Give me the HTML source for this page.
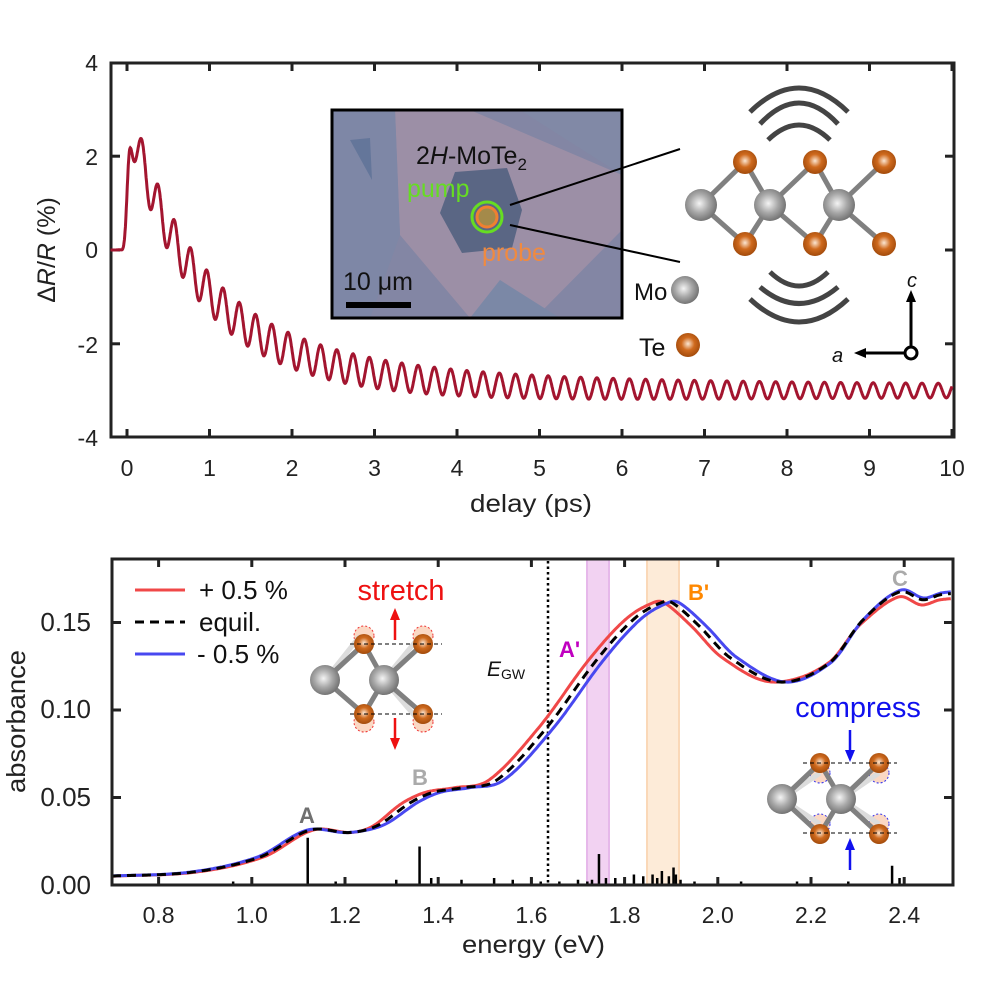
<!DOCTYPE html>
<html><head><meta charset="utf-8">
<style>
html,body{margin:0;padding:0;background:#fff;}
svg{display:block;font-family:"Liberation Sans",Arial,sans-serif;}
</style></head>
<body>
<svg id="s" width="987" height="983" viewBox="0 0 987 983" xmlns="http://www.w3.org/2000/svg">
<defs>
<radialGradient id="gMo" cx="0.45" cy="0.45" r="0.6"><stop offset="0" stop-color="#f4f4f4"/><stop offset="0.5" stop-color="#a8a8a8"/><stop offset="1" stop-color="#6a6a6a"/></radialGradient>
<radialGradient id="gTe" cx="0.5" cy="0.45" r="0.6"><stop offset="0" stop-color="#fbe6d2"/><stop offset="0.45" stop-color="#cf6a1e"/><stop offset="1" stop-color="#9a4508"/></radialGradient>
</defs>

<!-- ============ TOP PANEL ============ -->
<rect x="111" y="63" width="843" height="374" fill="none" stroke="#222" stroke-width="3"/>
<g id="topTicks" stroke="#222" stroke-width="3"></g>
<g font-size="23" fill="#222" text-anchor="end">
<text x="98" y="71">4</text><text x="98" y="165">2</text><text x="98" y="258">0</text><text x="98" y="353">-2</text><text x="98" y="446">-4</text>
</g>
<g id="topXl" font-size="23" fill="#222" text-anchor="middle"></g>
<text x="470" y="512" font-size="25" fill="#222" textLength="122" lengthAdjust="spacingAndGlyphs">delay (ps)</text>
<text transform="translate(55,250) rotate(-90)" font-size="25" fill="#222" text-anchor="middle">Δ<tspan font-style="italic">R</tspan>/<tspan font-style="italic">R</tspan> (%)</text>
<path id="trace" fill="none" stroke="#a3152f" stroke-width="3"/>

<!-- micrograph -->
<g>
<rect x="332" y="110" width="290" height="208" fill="#8386a4"/>
<polygon points="395,110 470,110 622,175 622,230 535,318 470,318 400,235" fill="#9c8fa6"/>
<polygon points="332,110 395,110 400,235 370,318 332,318" fill="#7e87a6"/>
<polygon points="520,110 622,110 622,175" fill="#8189a6"/>
<polygon points="500,280 560,318 470,318" fill="#7b88a6"/>
<polygon points="350,140 370,138 372,180" fill="#64769a"/>
<polygon points="440,213 455,172 507,168 522,210 512,248 462,253" fill="#5a6684"/>
<rect x="332" y="110" width="290" height="208" fill="none" stroke="#000" stroke-width="3"/>
<line x1="510" y1="205" x2="680" y2="149" stroke="#000" stroke-width="2"/>
<line x1="510" y1="225" x2="680" y2="262" stroke="#000" stroke-width="2"/>
<circle cx="487" cy="217" r="10" fill="#a48a4a" stroke="#f08030" stroke-width="3"/>
<circle cx="487" cy="217" r="15" fill="none" stroke="#66dd22" stroke-width="3"/>
<text x="416" y="164" font-size="25" fill="#111">2<tspan font-style="italic">H</tspan>-MoTe<tspan font-size="17" dy="6">2</tspan></text>
<text x="407" y="197" font-size="25" fill="#66dd22">pump</text>
<text x="482" y="261" font-size="25" fill="#f08a40">probe</text>
<text x="343" y="290" font-size="25" fill="#111">10 μm</text>
<rect x="346" y="302" width="65" height="6" fill="#000"/>
</g>

<!-- crystal top -->
<g stroke="#444" stroke-width="5" fill="none">
<path d="M750,112 Q799,64 848,112"/>
<path d="M760,124 Q799,82 838,124"/>
<path d="M768,140 Q799,110 830,140"/>
<path d="M770,272 Q799,300 828,272"/>
<path d="M760,287 Q799,320 838,287"/>
<path d="M750,299 Q799,345 848,299"/>
</g>
<g stroke="#808080" stroke-width="5">
<line x1="701" y1="205" x2="745" y2="162"/><line x1="701" y1="205" x2="745" y2="244"/>
<line x1="745" y1="162" x2="770" y2="205"/><line x1="745" y1="244" x2="770" y2="205"/>
<line x1="770" y1="205" x2="815" y2="162"/><line x1="770" y1="205" x2="815" y2="244"/>
<line x1="815" y1="162" x2="839" y2="205"/><line x1="815" y1="244" x2="839" y2="205"/>
<line x1="839" y1="205" x2="884" y2="162"/><line x1="839" y1="205" x2="884" y2="244"/>
</g>
<g fill="url(#gMo)"><circle cx="701" cy="205" r="16"/><circle cx="770" cy="205" r="16"/><circle cx="839" cy="205" r="16"/><circle cx="685" cy="290" r="14"/></g>
<g fill="url(#gTe)"><circle cx="745" cy="162" r="12"/><circle cx="815" cy="162" r="12"/><circle cx="884" cy="162" r="12"/><circle cx="745" cy="244" r="12"/><circle cx="815" cy="244" r="12"/><circle cx="884" cy="244" r="12"/><circle cx="688" cy="345" r="12"/></g>
<text x="634" y="300" font-size="24" fill="#111">Mo</text>
<text x="639" y="356" font-size="25" fill="#111">Te</text>
<g stroke="#000" stroke-width="3" fill="none">
<line x1="911" y1="347" x2="911" y2="298"/><line x1="905" y1="353" x2="862" y2="353"/>
<circle cx="911" cy="353" r="6" fill="#fff"/>
</g>
<polygon points="911,290 906,302 916,302" fill="#000"/>
<polygon points="854,353 866,348 866,358" fill="#000"/>
<text x="907" y="287" font-size="20" font-style="italic" fill="#111">c</text>
<text x="832" y="362" font-size="20" font-style="italic" fill="#111">a</text>

<!-- ============ BOTTOM PANEL ============ -->
<rect x="586" y="559" width="24" height="326" fill="#f2d2f2"/>
<line x1="587" y1="559" x2="587" y2="885" stroke="#e6b8ea" stroke-width="2"/>
<line x1="609" y1="559" x2="609" y2="885" stroke="#e6b8ea" stroke-width="2"/>
<rect x="646" y="559" width="34" height="326" fill="#fdebd8"/>
<line x1="647" y1="559" x2="647" y2="885" stroke="#fad8b8" stroke-width="2"/>
<line x1="679" y1="559" x2="679" y2="885" stroke="#fad8b8" stroke-width="2"/>
<line x1="548" y1="561" x2="548" y2="885" stroke="#000" stroke-width="2.5" stroke-dasharray="2.5,3"/>
<g id="sticks" stroke="#000" stroke-width="2.5"></g>
<path id="cR" fill="none" stroke="#f04848" stroke-width="3"/>
<path id="cB" fill="none" stroke="#4848f0" stroke-width="3"/>
<path id="cE" fill="none" stroke="#000" stroke-width="3" stroke-dasharray="9,6"/>
<rect x="112" y="559" width="841" height="326" fill="none" stroke="#222" stroke-width="3"/>
<g id="botTicks" stroke="#222" stroke-width="3"></g>
<g font-size="26" fill="#222" text-anchor="end">
<text x="91" y="631">0.15</text><text x="91" y="718">0.10</text><text x="91" y="806">0.05</text><text x="91" y="894">0.00</text>
</g>
<g id="botXl" font-size="23" fill="#222" text-anchor="middle"></g>
<text x="462" y="953" font-size="25" fill="#222" textLength="143" lengthAdjust="spacingAndGlyphs">energy (eV)</text>
<text transform="translate(25,793) rotate(-90)" font-size="26" fill="#222" textLength="143" lengthAdjust="spacingAndGlyphs">absorbance</text>

<!-- legend -->
<line x1="135" y1="590" x2="185" y2="590" stroke="#f04848" stroke-width="3"/>
<line x1="135" y1="622" x2="185" y2="622" stroke="#000" stroke-width="3" stroke-dasharray="9,6"/>
<line x1="135" y1="654" x2="185" y2="654" stroke="#4848f0" stroke-width="3"/>
<g font-size="26" fill="#111">
<text x="199" y="599">+ 0.5 %</text><text x="199" y="631">equil.</text><text x="197" y="663">- 0.5 %</text>
</g>

<!-- labels -->
<g font-weight="bold" font-size="22">
<text x="299" y="823" fill="#707070">A</text>
<text x="412" y="785" fill="#aaaaaa">B</text>
<text x="559" y="657" fill="#c000c0">A'</text>
<text x="688" y="600" fill="#ff8800">B'</text>
<text x="892" y="586" fill="#aaaaaa">C</text>
</g>
<text x="487" y="676" font-size="21" font-style="italic" fill="#111">E<tspan font-size="14" font-style="normal" dy="3">GW</tspan></text>

<!-- stretch inset -->
<text x="401" y="600" font-size="29" fill="#ee1111" text-anchor="middle">stretch</text>
<g stroke="#ee1111" stroke-width="2.5"><line x1="395" y1="640" x2="395" y2="618"/><line x1="395" y1="718" x2="395" y2="740"/></g>
<polygon points="395,608 390,620 400,620" fill="#ee1111"/><polygon points="395,750 390,738 400,738" fill="#ee1111"/>
<g fill="#fbd8c4" stroke="#ee3333" stroke-width="1" stroke-dasharray="2,2">
<circle cx="364" cy="636" r="10"/><circle cx="423" cy="636" r="10"/><circle cx="364" cy="722" r="10"/><circle cx="423" cy="722" r="10"/></g>
<g stroke="#dcdcdc" stroke-width="5"><line x1="325" y1="680" x2="360" y2="636"/><line x1="384" y1="680" x2="420" y2="636"/><line x1="384" y1="680" x2="420" y2="722"/></g>
<g stroke="#808080" stroke-width="5">
<line x1="325" y1="680" x2="364" y2="644"/><line x1="325" y1="680" x2="364" y2="714"/>
<line x1="364" y1="644" x2="384" y2="680"/><line x1="364" y1="714" x2="384" y2="680"/>
<line x1="384" y1="680" x2="423" y2="644"/><line x1="384" y1="680" x2="423" y2="714"/></g>
<g fill="url(#gMo)"><circle cx="325" cy="680" r="15"/><circle cx="384" cy="680" r="15"/></g>
<g fill="url(#gTe)"><circle cx="364" cy="644" r="10"/><circle cx="423" cy="644" r="10"/><circle cx="364" cy="714" r="10"/><circle cx="423" cy="714" r="10"/></g>
<g stroke="#000" stroke-width="1" stroke-dasharray="4,3"><line x1="350" y1="644" x2="442" y2="644"/><line x1="350" y1="714" x2="442" y2="714"/></g>

<!-- compress inset -->
<text x="858" y="717" font-size="29" fill="#1111ee" text-anchor="middle">compress</text>
<g stroke="#1111ee" stroke-width="2.5"><line x1="850" y1="730" x2="850" y2="752"/><line x1="850" y1="870" x2="850" y2="848"/></g>
<polygon points="850,762 845,750 855,750" fill="#1111ee"/><polygon points="850,838 845,850 855,850" fill="#1111ee"/>
<g fill="#fbd8c4" stroke="#3333ee" stroke-width="1" stroke-dasharray="2,2">
<circle cx="820" cy="773" r="10"/><circle cx="879" cy="773" r="10"/><circle cx="820" cy="824" r="10"/><circle cx="879" cy="824" r="10"/></g>
<g stroke="#dcdcdc" stroke-width="5"><line x1="782" y1="799" x2="820" y2="773"/><line x1="841" y1="799" x2="879" y2="773"/><line x1="841" y1="799" x2="879" y2="824"/><line x1="782" y1="799" x2="820" y2="824"/></g>
<g stroke="#808080" stroke-width="5">
<line x1="782" y1="799" x2="820" y2="763"/><line x1="782" y1="799" x2="820" y2="834"/>
<line x1="820" y1="763" x2="841" y2="799"/><line x1="820" y1="834" x2="841" y2="799"/>
<line x1="841" y1="799" x2="879" y2="763"/><line x1="841" y1="799" x2="879" y2="834"/></g>
<g fill="url(#gMo)"><circle cx="782" cy="799" r="15"/><circle cx="841" cy="799" r="15"/></g>
<g fill="url(#gTe)"><circle cx="820" cy="763" r="10"/><circle cx="879" cy="763" r="10"/><circle cx="820" cy="834" r="10"/><circle cx="879" cy="834" r="10"/></g>
<g stroke="#000" stroke-width="1" stroke-dasharray="4,3"><line x1="803" y1="763" x2="897" y2="763"/><line x1="803" y1="833" x2="897" y2="833"/></g>
</svg>
<script>
(function(){
var NS="http://www.w3.org/2000/svg";
function el(p,tag,a,txt){var e=document.createElementNS(NS,tag);for(var k in a)e.setAttribute(k,a[k]);if(txt!==undefined)e.textContent=txt;document.getElementById(p).appendChild(e);}
var TX=function(t){return 127+t*82.5;}, TY=function(v){return 250-v*46.9;};
var d="";
for(var t=-0.2;t<=10.0001;t+=0.004){
 var S=0.5*(1+Math.tanh((t-0.01)/0.035));
 var m=-3.0+2.6*Math.exp(-t/0.6)+3.36*Math.exp(-t/1.33);
 var a=0.1+0.4*Math.exp(-t/5);
 var v=S*(m+a*Math.cos(2*Math.PI*(t-0.18)/0.197));
 if(t<0.02) v-=0.09*Math.exp(-Math.pow((t+0.04)/0.03,2));
 d+=(d?"L":"M")+TX(t).toFixed(1)+","+TY(v).toFixed(1);
}
document.getElementById("trace").setAttribute("d",d);
for(var i=0;i<=10;i++){var x=TX(i);el("topTicks","line",{x1:x,y1:437,x2:x,y2:429});el("topTicks","line",{x1:x,y1:63,x2:x,y2:71});el("topXl","text",{x:x,y:476},String(i));}
[2,0,-2].forEach(function(v){var y=TY(v);el("topTicks","line",{x1:111,y1:y,x2:120,y2:y});el("topTicks","line",{x1:954,y1:y,x2:945,y2:y});});
var EX=function(e){return 112+(e-0.7)*466;}, AY=function(a){return 885-a*1750;};
var P=[[0.6,0.004],[0.7,0.0051],[0.874,0.0074],[1.018,0.016],[1.125,0.0314],[1.21,0.030],[1.27,0.034],[1.34,0.047],[1.39,0.053],[1.45,0.0555],[1.526,0.060],[1.633,0.090],[1.74,0.1286],[1.82,0.152],[1.882,0.1617],[1.904,0.161],[1.96,0.148],[2.026,0.130],[2.133,0.116],[2.24,0.127],[2.31,0.151],[2.39,0.1675],[2.44,0.163],[2.48,0.166],[2.55,0.167],[2.6,0.167]];
function f(e){var i=1;while(i<P.length-2&&P[i+1][0]<e)i++;
 var p0=P[i-1],p1=P[i],p2=P[i+1],p3=P[Math.min(i+2,P.length-1)];
 var h=p2[0]-p1[0],s=(e-p1[0])/h;
 var m1=(p2[1]-p0[1])/(p2[0]-p0[0])*h,m2=(p3[1]-p1[1])/(p3[0]-p1[0])*h;
 var s2=s*s,s3=s2*s;
 return (2*s3-3*s2+1)*p1[1]+(s3-2*s2+s)*m1+(-2*s3+3*s2)*p2[1]+(s3-s2)*m2;}
function path(id,sh,off){var d="";for(var e=0.7;e<=2.5001;e+=0.003){
 var k=-0.4+1.4*0.5*(1+Math.tanh((e-1.25)/0.05));
 k*=1-0.85*0.5*(1+Math.tanh((e-2.17)/0.04));
 var o=off*0.5*(1+Math.tanh((e-2.3)/0.05));
 var a=f(e+sh*k)+o;d+=(d?"L":"M")+EX(e).toFixed(1)+","+AY(a).toFixed(1);}
 document.getElementById(id).setAttribute("d",d);}
path("cE",0,0);path("cR",0.017,-0.003);path("cB",-0.015,0.001);
for(var e=0.8;e<=2.41;e+=0.2){var x=EX(e);el("botTicks","line",{x1:x,y1:885,x2:x,y2:877});el("botTicks","line",{x1:x,y1:559,x2:x,y2:567});el("botXl","text",{x:x,y:923},e.toFixed(1));}
[0.05,0.10,0.15].forEach(function(v){var y=AY(v);el("botTicks","line",{x1:112,y1:y,x2:121,y2:y});el("botTicks","line",{x1:953,y1:y,x2:944,y2:y});});
var st=[[1.12,0.027],[1.36,0.022],[1.385,0.004],[1.31,0.003],[1.45,0.003],[1.52,0.004],[1.56,0.003],[1.6,0.004],[1.62,0.002],[1.66,0.002],[1.70,0.003],[1.72,0.002],[1.745,0.0177],[1.73,0.003],[1.76,0.004],[1.78,0.004],[1.80,0.003],[1.82,0.006],[1.84,0.005],[1.86,0.006],[1.87,0.004],[1.88,0.008],[1.895,0.005],[1.905,0.010],[1.91,0.006],[1.92,0.003],[1.95,0.002],[2.05,0.002],[2.17,0.002],[2.28,0.002],[2.374,0.011],[2.39,0.004],[0.96,0.002],[1.0,0.002],[1.18,0.002]];
st.forEach(function(s){var x=EX(s[0]);el("sticks","line",{x1:x,y1:885,x2:x,y2:AY(s[1])});});
})();
</script>
</body></html>
